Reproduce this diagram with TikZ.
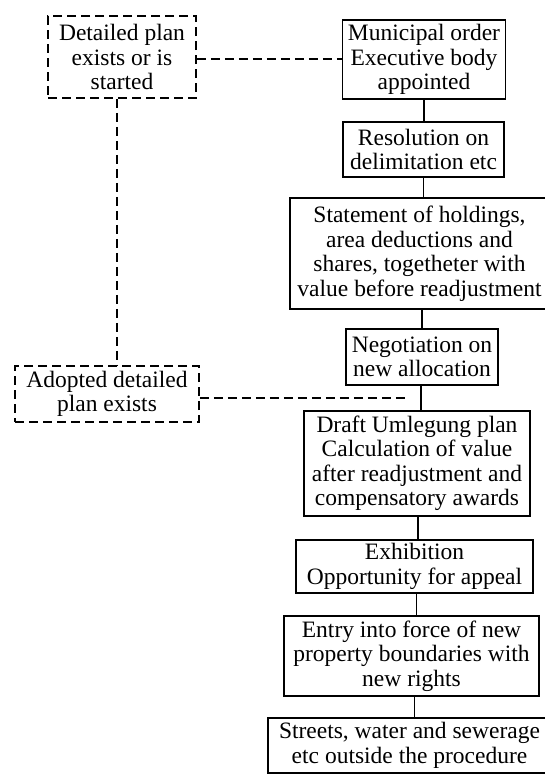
\documentclass[tikz,border=0pt]{standalone}
\usepackage{fontspec}
\setmainfont{Liberation Serif}
\usetikzlibrary{calc}

\tikzset{
  stepbox/.style={draw, line width=1.8pt, rectangle, align=center, inner sep=0pt,
    font=\fontsize{23.5}{24.5}\selectfont},
  planbox/.style={stepbox, dash pattern=on 9pt off 5pt},
  link/.style={line width=1.8pt},
  dlink/.style={line width=1.8pt, dash pattern=on 9pt off 5pt},
}

\begin{document}
\begin{tikzpicture}[x=1pt, y=-1pt]
\useasboundingbox (0,0) rectangle (545,774);

% main sequence of the procedure
\node[stepbox, minimum width=163pt, minimum height=79pt] (m1) at (424,59.5)
  {Municipal order\\Executive body\\appointed};
\node[stepbox, minimum width=161pt, minimum height=55pt] (m2) at (423.5,149.5)
  {Resolution on\\delimitation etc};
\node[stepbox, minimum width=259pt, minimum height=111pt] (m3) at (419.5,253.5)
  {Statement of holdings,\\area deductions and\\shares, togetheter with\\value before readjustment};
\node[stepbox, minimum width=152pt, minimum height=56pt] (m4) at (422,357)
  {Negotiation on\\new allocation};
\node[stepbox, minimum width=226pt, minimum height=105pt] (m5) at (417,463.5)
  {Draft Umlegung plan\\Calculation of value\\after readjustment and\\compensatory awards};
\node[stepbox, minimum width=237pt, minimum height=53pt] (m6) at (414.5,566.5)
  {Exhibition\\Opportunity for appeal};
\node[stepbox, minimum width=255pt, minimum height=80pt] (m7) at (411.5,656)
  {Entry into force of new\\property boundaries with\\new rights};
\node[stepbox, minimum width=283pt, minimum height=55pt] (m8) at (409.5,745.5)
  {Streets, water and sewerage\\etc outside the procedure};

% detailed plan conditions
\node[planbox, minimum width=148pt, minimum height=82pt] (pa) at (122,57)
  {Detailed plan\\exists or is\\started};
\node[planbox, minimum width=184pt, minimum height=56pt] (pb) at (107,394)
  {Adopted detailed\\plan exists};

% solid connectors
\draw[link] (m1.south) -- (m1.south |- m2.north);
\draw[link] (m2.south) -- (m2.south |- m3.north);
\draw[link] (m4.north |- m3.south) -- (m4.north);
\draw[link] ([xshift=-1pt]m4.south) -- ([xshift=-1pt]m4.south |- m5.north);
\draw[link] ([xshift=1pt]m5.south) -- ([xshift=1pt]m5.south |- m6.north);
\draw[link] ([xshift=2pt]m6.south) -- ([xshift=2pt]m6.south |- m7.north);
\draw[link] ([xshift=3pt]m7.south) -- ([xshift=3pt]m7.south |- m8.north);

% dashed connectors
\coordinate (j) at ($(m4.south)!0.5!(m5.north)$);
\coordinate (jend) at ([xshift=-14pt]j);
\draw[dlink] (pa.east |- 0,59) -- (m1.west |- 0,59);
\draw[dlink] ([xshift=-5pt]pa.south) -- ([xshift=-5pt]pa.south |- pb.north);
\draw[dlink] (pb.east |- j) -- (jend);
\end{tikzpicture}
\end{document}
